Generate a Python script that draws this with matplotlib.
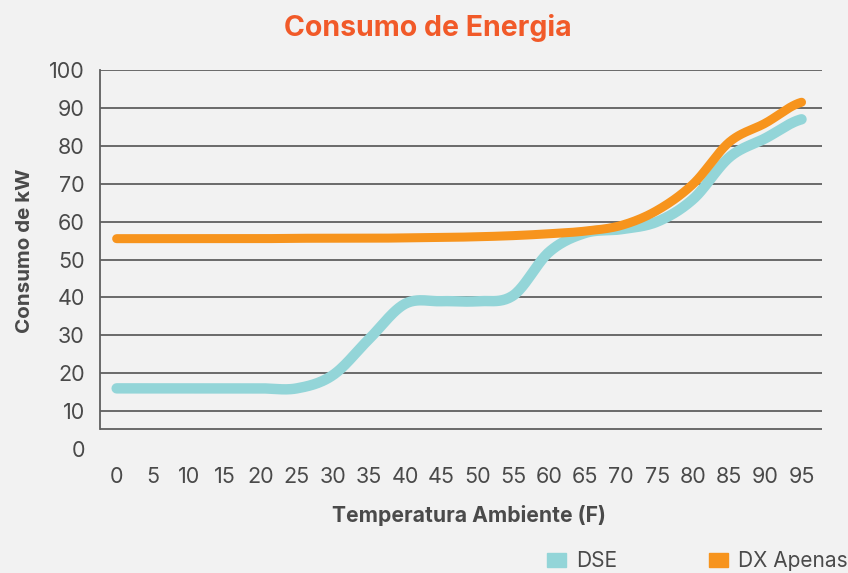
import numpy as np
import matplotlib
matplotlib.use("Agg")
import matplotlib.pyplot as plt
from matplotlib.patches import Patch

plt.rcParams['font.family'] = ['Inter', 'DejaVu Sans']

temps = [0, 5, 10, 15, 20, 25, 30, 35, 40, 45, 50, 55, 60, 65, 70, 75, 80, 85, 90, 95]
dse = [16, 16, 16, 16, 16, 16, 19.5, 29, 38.3, 39, 39, 40.5, 52, 57, 58, 60, 66, 77, 82, 87]
dx_apenas = [55.5, 55.5, 55.5, 55.5, 55.5, 55.6, 55.6, 55.6, 55.7, 55.8, 56, 56.3, 56.8, 57.5, 59, 63, 70, 81, 86, 91.5]

BG = '#F2F2F2'
DSE_COLOR = '#93D5D8'
DX_COLOR = '#F7941D'
GRID = '#5F5F5F'
TEXT = '#4A4A4A'


def smooth(x, y, n=24):
    # catmull-rom curve through the points, only for drawing
    x = np.asarray(x, float)
    y = np.asarray(y, float)
    xp = np.concatenate([[2 * x[0] - x[1]], x, [2 * x[-1] - x[-2]]])
    yp = np.concatenate([[y[0]], y, [y[-1]]])
    xs, ys = [], []
    t = np.linspace(0, 1, n, endpoint=False)
    for i in range(1, len(xp) - 2):
        mx0 = (xp[i + 1] - xp[i - 1]) / 2
        mx1 = (xp[i + 2] - xp[i]) / 2
        my0 = (yp[i + 1] - yp[i - 1]) / 2
        my1 = (yp[i + 2] - yp[i]) / 2
        h00 = 2 * t**3 - 3 * t**2 + 1
        h10 = t**3 - 2 * t**2 + t
        h01 = -2 * t**3 + 3 * t**2
        h11 = t**3 - t**2
        xs.append(h00 * xp[i] + h10 * mx0 + h01 * xp[i + 1] + h11 * mx1)
        ys.append(h00 * yp[i] + h10 * my0 + h01 * yp[i + 1] + h11 * my1)
    xs.append([x[-1]])
    ys.append([y[-1]])
    return np.concatenate(xs), np.concatenate(ys)


fig = plt.figure(figsize=(8.48, 5.73), dpi=100, facecolor=BG)
ax = fig.add_axes([0.118, 0.2164, 0.851, 0.6614], facecolor=BG)

sx, sy = smooth(temps, dse)
ax.plot(sx, sy, color=DSE_COLOR, lw=7.5, solid_capstyle='round', zorder=3)
sx, sy = smooth(temps, dx_apenas)
ax.plot(sx, sy, color=DX_COLOR, lw=6.5, solid_capstyle='round', zorder=4)

ax.set_xlim(-2.3, 97.8)
ax.set_ylim(0, 100)
ax.set_yticks(range(0, 101, 10))
ax.set_xticks(temps)
for v in range(10, 101, 10):
    ax.axhline(v, color=GRID, lw=1.3, zorder=1)
ax.axhline(5.2, color=GRID, lw=1.3, zorder=1)
ax.plot([-2.3, -2.3], [5.2, 100], color=GRID, lw=1.3, clip_on=False, zorder=1)

for s in ax.spines.values():
    s.set_visible(False)
ax.tick_params(length=0, labelsize=15.5, labelcolor=TEXT)
ax.tick_params(axis='x', pad=13)
ax.tick_params(axis='y', pad=11)

ax.set_xlabel('Temperatura Ambiente (F)', fontsize=15.2, fontweight='bold', color=TEXT)
ax.xaxis.set_label_coords(0.511, -0.147)
ax.set_ylabel('Consumo de kW', fontsize=14.8, fontweight='bold', color=TEXT)
ax.yaxis.set_label_coords(-0.092, 0.522)
fig.text(0.505, 0.951, 'Consumo de Energia', ha='center', va='center', fontsize=20.5,
         fontweight='bold', color='#F15A29')

handles = [Patch(color=DSE_COLOR, label='DSE'), Patch(color=DX_COLOR, label='DX Apenas')]
fig.legend(handles=handles, loc='lower right', bbox_to_anchor=(1.022, -0.03), ncol=2,
           frameon=False, fontsize=15, labelcolor=TEXT, handlelength=0.9, handleheight=0.7,
           handletextpad=0.5, columnspacing=4.4)

fig.savefig('out.png', dpi=100, facecolor=BG)
